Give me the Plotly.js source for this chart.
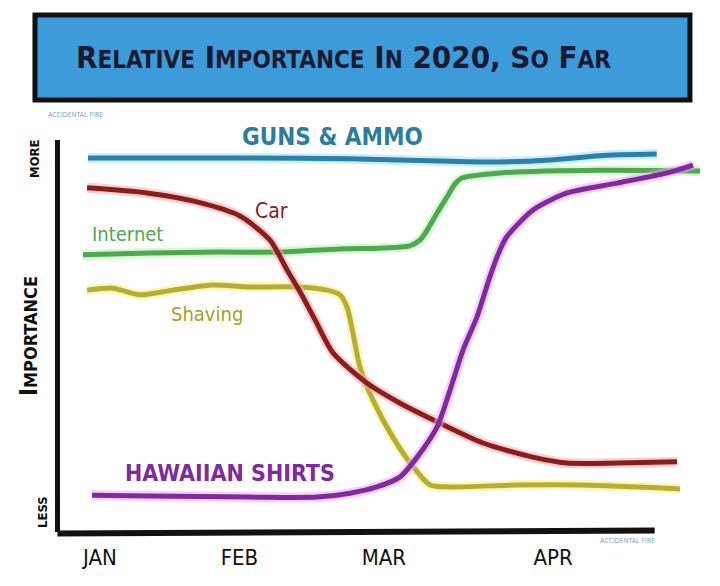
<!DOCTYPE html>
<html>
<head>
<meta charset="utf-8">
<script src="https://cdn.plot.ly/plotly-3.0.1.min.js"></script>
<style>
  html, body { margin: 0; padding: 0; background: #ffffff; }
  #chart { width: 720px; height: 586px; }
</style>
</head>
<body>
<div id="chart"></div>
<script>
// x = days since 1 January 2020, y = relative importance (0 = less, 100 = more)
const monthLabels = ['JAN', 'FEB', 'MAR', 'APR'];
const monthTickDays = [0, 28, 57, 91];

const seriesNames = ['GUNS & AMMO', 'Internet', 'Shaving', 'Car', 'HAWAIIAN SHIRTS'];

const gunsX = [-2.4, 10.0, 30.1, 50.2, 70.3, 80.3, 90.4, 100.4, 111.8];
const gunsY = [95.4, 95.4, 95.4, 95.2, 94.6, 94.4, 94.9, 96.0, 96.4];

const internetX = [-3.4, 10.0, 24.1, 36.1, 48.2, 56.2, 62.2, 64.3, 65.7, 67.7, 69.7, 71.3, 72.7, 80.3, 100.4, 120.5];
const internetY = [70.7, 71.2, 71.4, 71.4, 72.2, 72.4, 73.0, 74.5, 77.0, 81.4, 85.5, 88.8, 90.3, 91.6, 92.3, 92.1];

const shavingX = [-2.6, 2.6, 8.0, 14.7, 22.7, 29.5, 39.6, 45.6, 48.2, 49.6, 50.8, 52.2, 54.8, 58.8, 62.9, 66.3, 70.3, 83.7, 97.0, 116.5];
const shavingY = [61.7, 62.2, 60.5, 61.7, 63.0, 62.5, 62.5, 61.7, 60.5, 57.4, 50.8, 42.1, 33.7, 24.2, 16.6, 12.0, 11.5, 12.0, 12.0, 11.0];

const carX = [-2.6, 9.4, 19.5, 28.1, 34.1, 37.6, 40.2, 43.2, 46.8, 53.6, 60.2, 67.7, 76.9, 86.9, 93.8, 103.8, 115.9];
const carY = [87.8, 86.5, 84.2, 80.6, 74.5, 66.8, 61.2, 54.1, 45.7, 38.0, 32.9, 28.1, 22.7, 19.1, 17.6, 17.6, 17.9];

const shirtsX = [-1.6, 10.0, 30.1, 43.6, 50.2, 55.6, 60.2, 63.7, 67.7, 70.3, 72.9, 75.7, 78.3, 80.3, 81.7, 86.9, 93.8, 103.8, 113.9, 119.1];
const shirtsY = [9.4, 9.2, 8.9, 8.9, 9.9, 11.5, 14.0, 19.1, 26.8, 36.2, 46.4, 54.8, 65.1, 71.9, 75.3, 82.1, 86.5, 89.0, 91.6, 93.6];

const seriesX = [gunsX, internetX, shavingX, carX, shirtsX];
const seriesY = [gunsY, internetY, shavingY, carY, shirtsY];
const lineColors = ['#2b7fa8', '#4fa84f', '#b8ad33', '#8a1d1d', '#7d2b9e'];
const glowColors = ['#9fe0f5', '#b6f0b6', '#f5ee8a', '#f5a9a9', '#f3a6f3'];

const traces = [];
seriesNames.forEach((name, i) => {
  traces.push({
    type: 'scatter', mode: 'lines', x: seriesX[i], y: seriesY[i],
    line: { color: glowColors[i], width: 10, shape: 'spline', smoothing: 0.7 },
    opacity: 0.55, hoverinfo: 'skip', showlegend: false
  });
  traces.push({
    type: 'scatter', mode: 'lines', name: name, x: seriesX[i], y: seriesY[i],
    line: { color: lineColors[i], width: 5, shape: 'spline', smoothing: 0.7 },
    showlegend: false
  });
});

const handFont = 'DejaVu Sans Condensed, DejaVu Sans, sans-serif';

const layout = {
  width: 720, height: 586,
  paper_bgcolor: '#ffffff', plot_bgcolor: '#ffffff',
  margin: { l: 60, r: 15, t: 140, b: 54 },
  showlegend: false,
  title: {
    text: '<b>R<span style="font-size:24px">ELATIVE</span> I<span style="font-size:24px">MPORTANCE</span> I<span style="font-size:24px">N</span> 2020, S<span style="font-size:24px">O</span> F<span style="font-size:24px">AR</span></b>',
    font: { family: handFont, size: 31, color: '#1a1a30' },
    x: 0.477, xanchor: 'center', y: 0.903, yanchor: 'middle', xref: 'container', yref: 'container'
  },
  xaxis: {
    range: [-8.03, 121.5], showgrid: false, zeroline: false, showline: false,
    tickmode: 'array', tickvals: monthTickDays, ticktext: monthLabels,
    ticks: '', ticklabelstandoff: 10,
    tickfont: { family: handFont, size: 22, color: '#111111' }
  },
  yaxis: {
    range: [0, 100], showgrid: false, zeroline: false,
    showline: true, linecolor: '#111111', linewidth: 5,
    showticklabels: false, ticks: '',
    title: {
      text: '<b>I<span style="font-size:18px">MPORTANCE</span></b>',
      font: { family: handFont, size: 24, color: '#111111' },
      standoff: 12
    }
  },
  shapes: [
    { type: 'rect', xref: 'paper', yref: 'paper', x0: -0.0388, x1: 0.9767, y0: 1.102, y1: 1.319,
      fillcolor: '#3e9bd9', line: { color: '#111111', width: 5 } },
    { type: 'line', xref: 'paper', yref: 'paper', x0: -0.004, x1: 0.922, y0: -0.004, y1: 0.004,
      line: { color: '#111111', width: 6 } }
  ],
  annotations: [
    // labels placed by pixel position, converted to paper coordinates below
    { text: '<b>GUNS &amp; AMMO</b>', x: 332, y: 137, showarrow: false,
      font: { family: handFont, size: 24, color: '#2c7c9f' } },
    { text: 'Car', x: 271, y: 211, showarrow: false,
      font: { family: handFont, size: 21, color: '#8a1d1d' } },
    { text: 'Internet', x: 127, y: 234, showarrow: false,
      font: { family: handFont, size: 20, color: '#4fa84f' } },
    { text: 'Shaving', x: 207, y: 314, showarrow: false,
      font: { family: handFont, size: 20, color: '#a89d25' } },
    { text: '<b>HAWAIIAN SHIRTS</b>', x: 230, y: 473, showarrow: false,
      font: { family: handFont, size: 23, color: '#7d2b9e' } },
    { text: '<b>MORE</b>', x: 34, y: 159, showarrow: false, textangle: -90,
      font: { family: handFont, size: 13, color: '#111111' } },
    { text: '<b>LESS</b>', x: 42, y: 512, showarrow: false, textangle: -90,
      font: { family: handFont, size: 13, color: '#111111' } },
    { text: 'ACCIDENTAL FIRE', x: 75, y: 115, showarrow: false,
      font: { family: handFont, size: 7, color: '#7fa6bd' } },
    { text: 'ACCIDENTAL FIRE', x: 627, y: 541, showarrow: false,
      font: { family: handFont, size: 7, color: '#7fa6bd' } }
  ]
};

const plotL = 60, plotW = 645, plotB = 532, plotH = 392;
layout.annotations.forEach(a => {
  a.xref = 'paper'; a.yref = 'paper';
  a.xanchor = 'center'; a.yanchor = 'middle';
  a.x = (a.x - plotL) / plotW;
  a.y = (plotB - a.y) / plotH;
});

Plotly.newPlot('chart', traces, layout, { displayModeBar: false, staticPlot: true });
</script>
</body>
</html>
